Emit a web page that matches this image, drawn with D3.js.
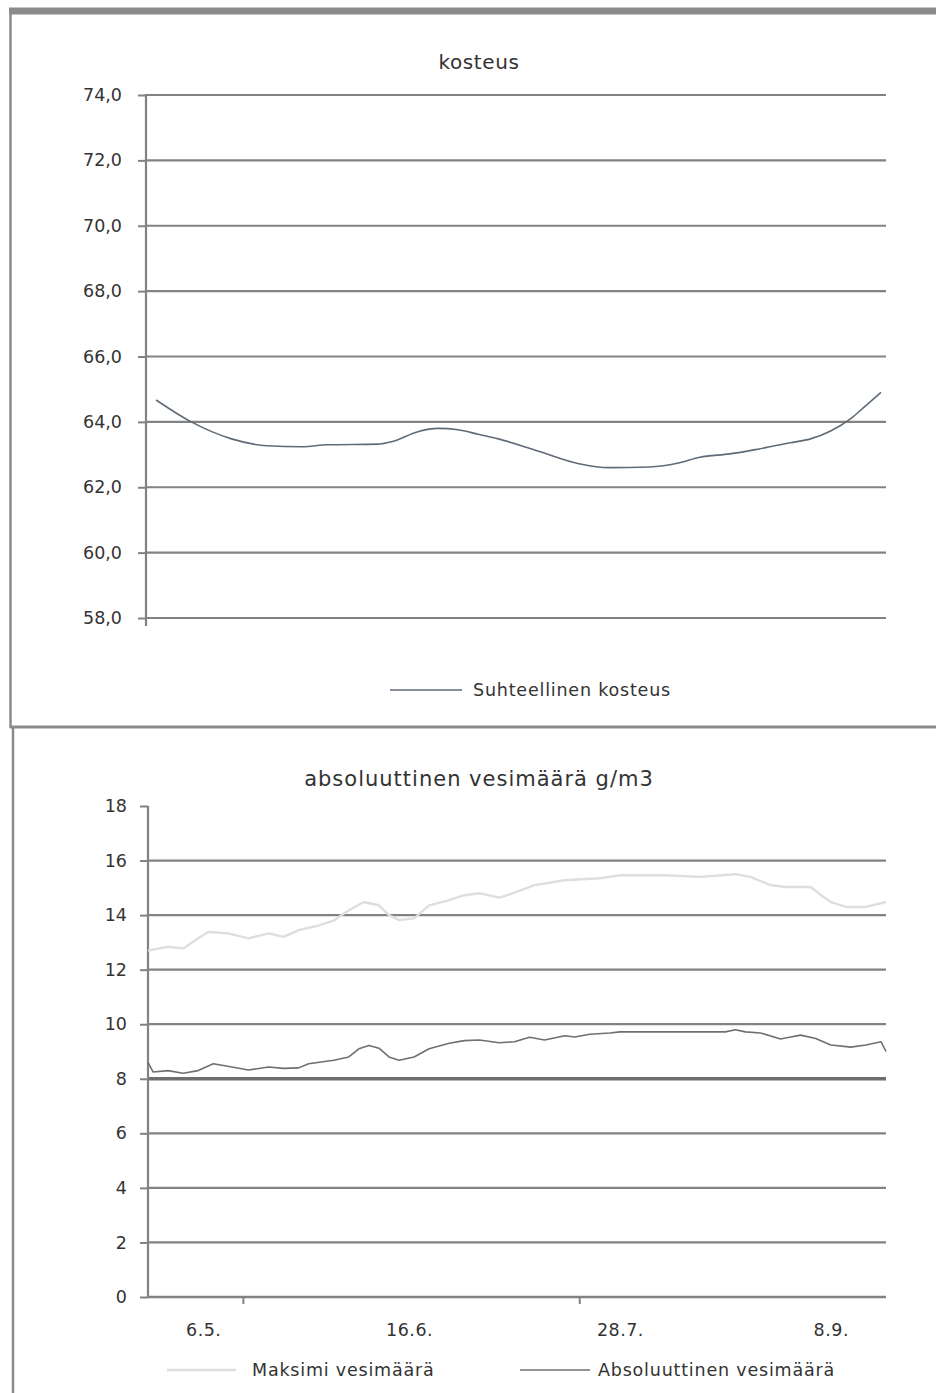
<!DOCTYPE html>
<html>
<head>
<meta charset="utf-8">
<script src="https://cdn.jsdelivr.net/npm/d3@7"></script>
<style>
  body { margin: 0; background: #fff; }
  svg { display: block; }
  text { font-family: "DejaVu Sans", sans-serif; fill: #333; }
</style>
</head>
<body>
<svg id="chart" width="936" height="1393"></svg>
<script>
// ---- data -------------------------------------------------------------
const parseDay = d3.timeParse("%d.%m.");
const dateDomain = ["25.4.", "19.9."];

// Relative humidity (%)
const rhDates  = ["27.4.","4.5.","12.5.","19.5.","26.5.","31.5.","10.6.","13.6.","18.6.","22.6.","26.6.","30.6.",
                  "4.7.","12.7.","20.7.","26.7.","3.8.","9.8.","13.8.","19.8.","25.8.","31.8.","4.9.","8.9.","12.9.","15.9.","18.9."];
const rhValues = [64.67,64.0,63.48,63.27,63.24,63.3,63.32,63.4,63.7,63.8,63.76,63.62,
                  63.48,63.1,62.72,62.6,62.62,62.75,62.92,63.02,63.18,63.36,63.48,63.72,64.1,64.5,64.9];
const rhTicks  = [58, 60, 62, 64, 66, 68, 70, 72, 74];

// Maximum water content (g/m3)
const maxDates  = ["25.4.","29.4.","2.5.","5.5.","7.5.","11.5.","15.5.","19.5.","22.5.","25.5.","29.5.","1.6.","4.6.",
                   "7.6.","10.6.","12.6.","14.6.","17.6.","20.6.","24.6.","27.6.","30.6.","4.7.","7.7.","11.7.","17.7.",
                   "24.7.","28.7.","6.8.","13.8.","20.8.","23.8.","27.8.","30.8.","4.9.","6.9.","8.9.","11.9.","15.9.","19.9."];
const maxValues = [12.7,12.84,12.78,13.15,13.38,13.33,13.15,13.33,13.2,13.45,13.62,13.8,14.18,
                   14.48,14.36,14.0,13.82,13.88,14.36,14.55,14.73,14.8,14.64,14.82,15.1,15.28,
                   15.35,15.46,15.46,15.4,15.5,15.4,15.1,15.03,15.03,14.74,14.48,14.3,14.3,14.48];

// Absolute water content (g/m3)
const absDates  = ["25.4.","26.4.","29.4.","2.5.","5.5.","8.5.","12.5.","15.5.","19.5.","22.5.","25.5.","27.5.",
                   "1.6.","4.6.","6.6.","8.6.","10.6.","12.6.","14.6.","17.6.","20.6.","24.6.","27.6.","30.6.",
                   "4.7.","7.7.","10.7.","13.7.","17.7.","19.7.","22.7.","26.7.","28.7.","6.8.","18.8.","20.8.",
                   "22.8.","25.8.","29.8.","31.8.","2.9.","5.9.","8.9.","12.9.","15.9.","18.9.","19.9."];
const absValues = [8.6,8.25,8.3,8.2,8.3,8.55,8.42,8.32,8.43,8.38,8.4,8.55,
                   8.68,8.8,9.1,9.22,9.12,8.8,8.68,8.8,9.1,9.3,9.4,9.42,
                   9.32,9.36,9.52,9.42,9.58,9.53,9.63,9.68,9.72,9.72,9.72,9.8,
                   9.72,9.68,9.46,9.53,9.6,9.48,9.24,9.16,9.24,9.36,9.0];
const waterTicks = [0, 2, 4, 6, 8, 10, 12, 14, 16, 18];
const dateLabels = ["6.5.", "16.6.", "28.7.", "8.9."];
const dateMarks  = ["14.5.", "20.7."];

// ---- drawing ----------------------------------------------------------
const svg = d3.select("#chart");
const gridColor = "#828282";
const labelSize = 17.5;
const commaFmt = d => d3.format(".1f")(d).replace(".", ",");
const toPoints = (dates, values) => dates.map((d, i) => ({ date: parseDay(d), value: values[i] }));

// outer frames
const frame = svg.append("g").attr("stroke", "#8a8a8a").attr("fill", "none");
frame.append("line").attr("x1", 9).attr("x2", 936).attr("y1", 11).attr("y2", 11).attr("stroke-width", 7);
frame.append("line").attr("x1", 10.5).attr("x2", 10.5).attr("y1", 11).attr("y2", 728).attr("stroke-width", 2.5);
frame.append("line").attr("x1", 10).attr("x2", 936).attr("y1", 727).attr("y2", 727).attr("stroke-width", 3);
frame.append("line").attr("x1", 13).attr("x2", 13).attr("y1", 727).attr("y2", 1393).attr("stroke-width", 2.5);

// ---------- upper panel: relative humidity ----------
{
  const x = d3.scaleTime().domain(dateDomain.map(parseDay)).range([146, 886]);
  const y = d3.scaleLinear().domain([58, 74]).range([618, 95]);
  const g = svg.append("g");

  g.append("g").selectAll("line").data(rhTicks).join("line")
    .attr("x1", 146).attr("x2", 886)
    .attr("y1", d => y(d)).attr("y2", d => y(d))
    .attr("stroke", gridColor).attr("stroke-width", 2.2);

  const ax = g.append("g").attr("transform", "translate(146,0)")
    .call(d3.axisLeft(y).tickValues(rhTicks).tickFormat(commaFmt).tickSize(8).tickPadding(16));
  ax.select(".domain").remove();
  ax.selectAll(".tick line").attr("stroke", gridColor).attr("stroke-width", 2);
  ax.selectAll(".tick text").attr("font-size", labelSize).attr("fill", "#3a3a3a").attr("font-family", "DejaVu Sans");

  g.append("line").attr("x1", 146).attr("x2", 146).attr("y1", 94).attr("y2", 626)
    .attr("stroke", gridColor).attr("stroke-width", 2.2);

  g.append("path").datum(toPoints(rhDates, rhValues))
    .attr("fill", "none").attr("stroke", "#5f6b78").attr("stroke-width", 1.6)
    .attr("d", d3.line().x(d => x(d.date)).y(d => y(d.value)).curve(d3.curveMonotoneX));

  g.append("text").attr("x", 479).attr("y", 69).attr("text-anchor", "middle")
    .attr("font-size", 20).attr("fill", "#1e1e1e").attr("letter-spacing", 0.6).text("kosteus");

  const lg = g.append("g").attr("transform", "translate(390,690)");
  lg.append("line").attr("x1", 0).attr("x2", 72).attr("stroke", "#5f6b78").attr("stroke-width", 1.6);
  lg.append("text").attr("x", 83).attr("dy", "0.35em").attr("font-size", labelSize)
    .attr("fill", "#222").attr("letter-spacing", 0.8).text("Suhteellinen kosteus");
}

// ---------- lower panel: absolute water content ----------
{
  const x = d3.scaleTime().domain(dateDomain.map(parseDay)).range([148, 886]);
  const y = d3.scaleLinear().domain([0, 18]).range([1297, 806]);
  const g = svg.append("g");

  g.append("g").selectAll("line").data(waterTicks.filter(d => d < 18)).join("line")
    .attr("x1", 148).attr("x2", 886)
    .attr("y1", d => y(d)).attr("y2", d => y(d))
    .attr("stroke", d => d === 8 ? "#6e6e6e" : gridColor)
    .attr("stroke-width", d => d === 8 ? 3.4 : (d === 0 ? 2.6 : 2.2));

  const ax = g.append("g").attr("transform", "translate(148,0)")
    .call(d3.axisLeft(y).tickValues(waterTicks).tickSize(8).tickPadding(13));
  ax.select(".domain").remove();
  ax.selectAll(".tick line").attr("stroke", gridColor).attr("stroke-width", 2);
  ax.selectAll(".tick text").attr("font-size", labelSize).attr("fill", "#3a3a3a").attr("font-family", "DejaVu Sans");

  g.append("line").attr("x1", 148).attr("x2", 148).attr("y1", 806).attr("y2", 1298)
    .attr("stroke", gridColor).attr("stroke-width", 2.2);

  // small category tick marks below the baseline
  g.append("g").selectAll("line").data(dateMarks.map(parseDay)).join("line")
    .attr("x1", d => x(d)).attr("x2", d => x(d))
    .attr("y1", 1297).attr("y2", 1304)
    .attr("stroke", gridColor).attr("stroke-width", 2);

  const xa = g.append("g").attr("transform", "translate(0,1297)")
    .call(d3.axisBottom(x).tickValues(dateLabels.map(parseDay))
      .tickFormat(d3.timeFormat("%-d.%-m.")).tickSize(0).tickPadding(27));
  xa.select(".domain").remove();
  xa.selectAll(".tick text").attr("font-size", labelSize).attr("fill", "#3a3a3a")
    .attr("font-family", "DejaVu Sans").attr("letter-spacing", 0.5);

  const line = d3.line().x(d => x(d.date)).y(d => y(d.value));

  g.append("path").datum(toPoints(maxDates, maxValues))
    .attr("fill", "none").attr("stroke", "#dedede").attr("stroke-width", 2.4)
    .attr("stroke-linejoin", "round").attr("d", line);

  g.append("path").datum(toPoints(absDates, absValues))
    .attr("fill", "none").attr("stroke", "#6f6f6f").attr("stroke-width", 1.6)
    .attr("stroke-linejoin", "round").attr("d", line);

  g.append("text").attr("x", 479).attr("y", 786).attr("text-anchor", "middle")
    .attr("font-size", 21).attr("fill", "#1e1e1e").attr("letter-spacing", 1.0)
    .text("absoluuttinen vesimäärä g/m3");

  const legend = [
    { label: "Maksimi vesimäärä", color: "#dedede", width: 2.4, x0: 167, x1: 236, tx: 252 },
    { label: "Absoluuttinen vesimäärä", color: "#6f6f6f", width: 1.6, x0: 520, x1: 590, tx: 598 }
  ];
  const lg = g.append("g").attr("transform", "translate(0,1370)");
  lg.selectAll("line").data(legend).join("line")
    .attr("x1", d => d.x0).attr("x2", d => d.x1)
    .attr("stroke", d => d.color).attr("stroke-width", d => d.width);
  lg.selectAll("text").data(legend).join("text")
    .attr("x", d => d.tx).attr("dy", "0.35em").attr("font-size", labelSize)
    .attr("fill", "#222").attr("letter-spacing", 0.8).text(d => d.label);
}
</script>
</body>
</html>
